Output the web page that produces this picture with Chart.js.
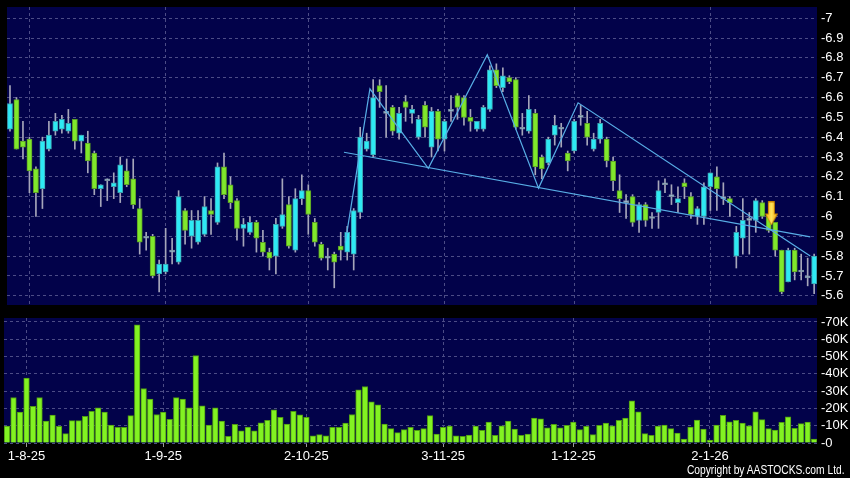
<!DOCTYPE html>
<html>
<head>
<meta charset="utf-8">
<script src="https://cdn.jsdelivr.net/npm/chart.js@4.4.1/dist/chart.umd.min.js"></script>
<style>
  html, body { margin: 0; padding: 0; background: #000; }
  #wrap { position: relative; width: 850px; height: 478px; background: #000; overflow: hidden; }
  #price { position: absolute; left: 0; top: 0; }
  #vol { position: absolute; left: 0; top: 310px; }
  #copy { position: absolute; right: 5px; top: 463px; color: #fff; transform-origin: right top;
          font: 12px 'Liberation Sans', Arial, sans-serif; white-space: nowrap; }
</style>
</head>
<body>
<div id="wrap">
  <canvas id="price" width="850" height="312"></canvas>
  <canvas id="vol" width="850" height="168"></canvas>
  <div id="copy">Copyright by AASTOCKS.com Ltd.</div>
</div>
<script>
// x axis date labels and the candle index they sit on
const dateLabels = ['1-8-25', '1-9-25', '2-10-25', '3-11-25', '1-12-25', '2-1-26'];
const dateIdx = [3, 24, 46, 67, 87, 108];

// y axis ticks
const priceTicks = [5.6, 5.7, 5.8, 5.9, 6, 6.1, 6.2, 6.3, 6.4, 6.5, 6.6, 6.7, 6.8, 6.9, 7];
const volTicks = [0, 10000, 20000, 30000, 40000, 50000, 60000, 70000];
const volTickLabels = ['0', '10K', '20K', '30K', '40K', '50K', '60K', '70K'];

// daily OHLC
const openP = [6.44,6.59,6.38,6.39,6.24,6.14,6.34,6.43,6.44,6.43,6.49,6.38,6.37,6.32,6.14,6.18,6.15,6.12,6.23,6.19,
  6.04,5.89,5.90,5.71,5.72,5.82,5.77,6.03,5.90,5.87,5.91,6.03,5.97,6.25,6.16,6.08,5.94,5.92,5.97,5.87,
  5.82,5.80,5.95,6.06,5.83,6.09,6.13,5.97,5.86,5.80,5.81,5.85,5.82,5.81,6.02,6.34,6.31,6.66,6.52,6.55,
  6.42,6.58,6.52,6.40,6.56,6.35,6.53,6.39,6.53,6.61,6.60,6.50,6.44,6.44,6.54,6.74,6.65,6.70,6.69,6.44,
  6.43,6.52,6.30,6.27,6.41,6.44,6.32,6.33,6.50,6.47,6.34,6.39,6.39,6.28,6.13,6.07,6.10,5.98,6.06,5.99,
  6.02,6.17,6.10,6.07,6.17,6.10,6.00,6.00,6.15,6.20,6.09,6.09,5.80,5.89,5.98,5.98,6.07,6.00,5.97,5.83,
  5.67,5.83,5.72,5.69,5.66];
const highP = [6.66,6.60,6.48,6.40,6.25,6.40,6.48,6.52,6.51,6.54,6.49,6.41,6.43,6.33,6.16,6.19,6.22,6.30,6.29,6.29,
  6.09,5.92,5.91,5.78,5.94,5.89,6.13,6.04,6.03,6.03,6.10,6.09,6.27,6.32,6.20,6.09,5.99,6.00,5.98,5.93,
  5.84,5.99,6.19,6.10,6.14,6.21,6.16,5.99,5.87,5.84,5.82,5.92,5.95,6.04,6.45,6.42,6.69,6.69,6.66,6.56,
  6.55,6.61,6.56,6.51,6.58,6.55,6.54,6.49,6.61,6.62,6.61,6.54,6.48,6.56,6.76,6.77,6.75,6.71,6.70,6.52,
  6.61,6.54,6.31,6.40,6.51,6.47,6.33,6.49,6.56,6.53,6.42,6.49,6.40,6.30,6.21,6.11,6.11,6.07,6.07,6.02,
  6.18,6.19,6.16,6.15,6.19,6.12,6.05,6.17,6.22,6.25,6.17,6.10,5.95,6.09,6.02,6.09,6.08,6.00,5.97,5.83,
  5.84,5.84,5.81,5.79,5.81];
const lowP = [6.43,6.34,6.29,6.12,6.00,6.04,6.33,6.41,6.42,6.42,6.34,6.32,6.22,6.11,6.05,6.08,6.09,6.07,6.15,6.04,
  5.81,5.83,5.69,5.62,5.71,5.76,5.76,5.86,5.84,5.86,5.90,5.91,5.96,6.09,6.04,5.88,5.85,5.91,5.82,5.80,
  5.73,5.71,5.94,5.84,5.82,6.06,5.91,5.85,5.78,5.73,5.64,5.78,5.78,5.73,5.99,6.33,6.30,6.55,6.40,6.41,
  6.39,6.48,6.47,6.39,6.40,6.30,6.33,6.33,6.48,6.49,6.46,6.43,6.43,6.43,6.53,6.65,6.63,6.67,6.44,6.41,
  6.42,6.21,6.19,6.26,6.36,6.35,6.23,6.32,6.46,6.36,6.33,6.37,6.25,6.13,6.02,5.99,5.95,5.92,5.95,5.94,
  5.94,6.12,6.06,6.02,6.09,5.99,5.96,5.96,6.03,6.03,6.06,6.00,5.74,5.81,5.81,5.92,5.99,5.92,5.80,5.61,
  5.67,5.68,5.68,5.65,5.61];
const closeP = [6.57,6.34,6.35,6.23,6.12,6.38,6.41,6.48,6.49,6.47,6.38,6.41,6.28,6.14,6.16,6.19,6.17,6.26,6.16,6.06,
  5.87,5.90,5.70,5.76,5.76,5.83,6.10,5.93,5.98,5.98,6.05,6.01,6.25,6.11,6.07,5.94,5.96,5.97,5.89,5.82,
  5.79,5.96,6.01,5.85,6.09,6.13,6.01,5.87,5.79,5.79,5.77,5.83,5.92,6.03,6.40,6.38,6.60,6.63,6.53,6.43,
  6.52,6.55,6.54,6.49,6.45,6.53,6.39,6.48,6.54,6.55,6.50,6.48,6.48,6.55,6.74,6.66,6.71,6.68,6.45,6.45,
  6.54,6.25,6.24,6.39,6.46,6.45,6.28,6.48,6.51,6.40,6.39,6.47,6.28,6.18,6.09,6.08,5.97,6.06,5.98,6.00,
  6.13,6.16,6.11,6.09,6.15,6.01,6.04,6.15,6.22,6.14,6.10,6.07,5.92,5.98,5.99,6.08,6.00,5.93,5.83,5.62,
  5.83,5.72,5.73,5.70,5.80];

// daily volume, thousands of shares
const volK = [9.8,26.3,17.9,37.5,21.2,26.3,12.7,16.2,9.6,5.4,12.9,12.9,15.4,18.3,20.4,17.9,10.4,9.0,9.0,15.8,
  68.3,31.5,25.4,16.5,17.9,13.7,26.2,25.4,20.4,50.6,21.5,10.4,20.4,12.7,3.8,10.8,7.1,9.2,7.1,11.7,
  13.1,19.2,14.8,11.0,18.3,16.3,14.8,4.2,4.8,4.2,9.0,9.0,11.5,16.5,30.8,32.7,23.8,22.1,11.0,8.3,
  6.0,7.7,9.0,7.3,8.3,15.8,5.2,9.0,9.8,4.2,3.8,4.6,9.8,7.3,12.1,4.4,10.0,12.7,8.1,4.4,
  5.2,14.4,14.0,8.8,10.8,8.8,10.2,12.1,7.7,9.6,4.8,10.2,11.5,10.0,13.1,14.4,24.4,18.1,5.4,4.4,
  9.8,10.4,8.3,5.8,2.3,9.2,13.3,8.1,1.7,10.4,16.0,12.3,13.1,11.5,10.0,18.1,13.5,8.3,7.5,11.9,
  15.2,8.5,11.2,12.1,2.3];

// drawn pattern lines: [candle index, price]
const zigzagPts = [[51.7,5.868],[55.5,6.644],[64.5,6.243],[73.6,6.816],[81.5,6.143],[87.6,6.573],[123.4,5.80]];
const necklinePts = [[51.5,6.324],[123.4,5.897]];
const signalPts = [[117.4,6.015]];

const X_MIN = -0.461, X_MAX = 124.44;
const FONT = { family: "'Liberation Sans', Arial, sans-serif", size: 13 };
const GRID = '#4c4c86';
const PLOT_BG = '#02024a';
const UP = '#2ee9f4', UP_EDGE = '#3c9fae';
const DN = '#80e82c', DN_EDGE = '#5a9c24';
const DOJI = '#9cc4d4', DOJI_EDGE = '#7c8ea0';
const WICK = '#a6a6ba';
const LINE = '#58aee6';

const idx = openP.map((_, i) => i);

function isDoji(i) { return Math.abs(closeP[i] - openP[i]) < 0.015; }
function fillOf(i) { return isDoji(i) ? DOJI : (closeP[i] > openP[i] ? UP : DN); }
function edgeOf(i) { return isDoji(i) ? DOJI_EDGE : (closeP[i] > openP[i] ? UP_EDGE : DN_EDGE); }

// yellow down arrow used as the signal marker
function makeArrow() {
  const c = document.createElement('canvas');
  c.width = 13; c.height = 24;
  const g = c.getContext('2d');
  const grad = g.createLinearGradient(0, 0, 13, 0);
  grad.addColorStop(0, '#f2a200');
  grad.addColorStop(0.5, '#ffe45a');
  grad.addColorStop(1, '#eea000');
  g.fillStyle = grad;
  g.strokeStyle = '#c98400';
  g.lineWidth = 1;
  g.beginPath();
  g.moveTo(3.5, 0.5); g.lineTo(9.5, 0.5); g.lineTo(9.5, 12.5); g.lineTo(12.5, 12.5);
  g.lineTo(6.5, 23.5); g.lineTo(0.5, 12.5); g.lineTo(3.5, 12.5); g.closePath();
  g.fill(); g.stroke();
  return c;
}

const plotBg = {
  id: 'plotBg',
  beforeDraw(chart) {
    const { ctx, chartArea: a } = chart;
    ctx.save();
    ctx.fillStyle = PLOT_BG;
    ctx.fillRect(a.left, a.top, a.right - a.left, a.bottom - a.top);
    ctx.restore();
  }
};

const setTicks = vals => s => { s.ticks = vals.map(v => ({ value: v })); };

// price panel
new Chart(document.getElementById('price'), {
  type: 'bar',
  data: {
    datasets: [
      { type: 'scatter', data: signalPts.map(p => ({ x: p[0], y: p[1] })),
        pointStyle: makeArrow(), pointRadius: 6, order: 0 },
      { type: 'line', data: zigzagPts.map(p => ({ x: p[0], y: p[1] })),
        borderColor: LINE, borderWidth: 1.2, pointRadius: 0, tension: 0, order: 1 },
      { type: 'line', data: necklinePts.map(p => ({ x: p[0], y: p[1] })),
        borderColor: LINE, borderWidth: 1.2, pointRadius: 0, tension: 0, order: 1 },
      { type: 'bar', data: idx.map(i => ({ x: i, y: [openP[i], closeP[i]] })),
        backgroundColor: idx.map(fillOf), borderColor: idx.map(edgeOf),
        borderWidth: 1, borderSkipped: false, barThickness: 5.2, grouped: false, order: 2 },
      { type: 'bar', data: idx.map(i => ({ x: i, y: [lowP[i], highP[i]] })),
        backgroundColor: WICK, barThickness: 1, grouped: false, order: 3 }
    ]
  },
  options: {
    responsive: false,
    animation: false,
    layout: { padding: { left: 4, top: 6, right: 0, bottom: 6 } },
    plugins: { legend: { display: false }, tooltip: { enabled: false } },
    scales: {
      x: {
        type: 'linear', min: X_MIN, max: X_MAX, offset: false,
        afterBuildTicks: setTicks(dateIdx),
        afterFit: s => { s.height = 0; s.paddingLeft = 0; s.paddingRight = 0; },
        ticks: { display: false, autoSkip: false },
        grid: { color: GRID, offset: false, drawTicks: false },
        border: { display: false, dash: [3, 3] }
      },
      y: {
        type: 'linear', position: 'right', min: 5.5534, max: 7.0566,
        afterBuildTicks: setTicks(priceTicks),
        afterFit: s => { s.width = 33; s.paddingTop = 0; s.paddingBottom = 0; },
        ticks: { color: '#fff', font: FONT, padding: 4, autoSkip: false,
                 callback: v => '-' + (+v.toFixed(1)) },
        grid: { color: GRID, drawTicks: false },
        border: { display: false, dash: [3, 3] }
      }
    }
  },
  plugins: [plotBg]
});

// volume panel
new Chart(document.getElementById('vol'), {
  type: 'bar',
  data: {
    datasets: [
      { data: idx.map(i => ({ x: i, y: volK[i] * 1000 })),
        backgroundColor: '#82f222', borderColor: '#4f9a12', borderWidth: 1,
        borderSkipped: 'start', barThickness: 5.6 }
    ]
  },
  options: {
    responsive: false,
    animation: false,
    layout: { padding: { left: 4, top: 8, right: 0, bottom: 0 } },
    plugins: { legend: { display: false }, tooltip: { enabled: false } },
    scales: {
      x: {
        type: 'linear', min: X_MIN, max: X_MAX, offset: false,
        afterBuildTicks: setTicks(dateIdx),
        afterFit: s => { s.height = 35; s.paddingLeft = 0; s.paddingRight = 0; },
        ticks: { color: '#fff', font: FONT, padding: 2, autoSkip: false, maxRotation: 0,
                 callback: v => dateLabels[dateIdx.indexOf(v)] },
        grid: { color: GRID, offset: false, drawTicks: true, tickLength: 4, tickColor: '#9a9a9a' },
        border: { display: false, dash: [3, 3] }
      },
      y: {
        type: 'linear', position: 'right', min: 0, max: 72300,
        afterBuildTicks: setTicks(volTicks),
        afterFit: s => { s.width = 33; s.paddingTop = 0; s.paddingBottom = 0; },
        ticks: { color: '#fff', font: FONT, padding: 4, autoSkip: false,
                 callback: v => '-' + volTickLabels[volTicks.indexOf(v)] },
        grid: { color: GRID, drawTicks: false },
        border: { display: false, dash: [3, 3] }
      }
    }
  },
  plugins: [plotBg]
});

// squeeze the copyright line to the width it has in the original
const copy = document.getElementById('copy');
copy.style.transform = 'scaleX(' + (158 / copy.offsetWidth) + ')';
</script>
</body>
</html>
